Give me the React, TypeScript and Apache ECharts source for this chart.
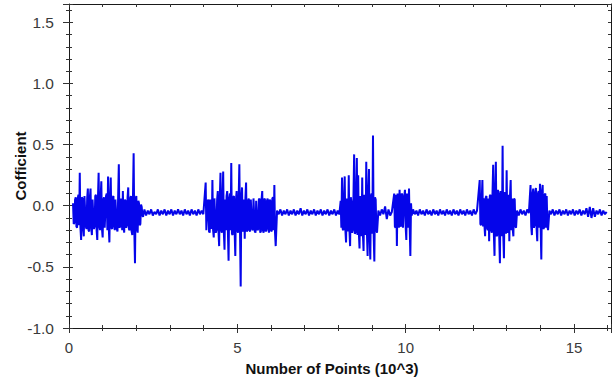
import React, { useEffect, useRef } from "react";
import * as echarts from "echarts";

// x positions are in thousands of points
const burstStep = 0.02;
const quietStep = 0.05;

const burst1Start = 0.12;
const burst1 = [
  0.02, -0.15, -0.14, 0.05, 0.07, -0.17, -0.18, 0.06, 0.09, -0.16, 0.27, -0.18, -0.28, 0.07, 0.06, -0.19, -0.25, 0.08, 0.08, -0.17,
  -0.19, 0.06, 0.14, -0.2, -0.21, 0.07, 0.14, -0.18, -0.24, 0.05, 0.05, -0.19, -0.17, 0.08, 0.09, -0.2, -0.28, 0.06, 0.27, -0.17,
  -0.2, 0.07, 0.2, -0.19, -0.26, 0.05, 0.07, -0.18, -0.18, 0.08, 0.1, -0.2, 0.24, -0.17, -0.3, 0.06, 0.23, -0.18, -0.19, 0.07,
  0.08, -0.17, -0.2, 0.05, 0.05, -0.19, -0.21, 0.08, 0.34, -0.18, -0.17, 0.06, 0.06, -0.2, 0.12, -0.17, -0.22, 0.05, 0.04, -0.18,
  -0.16, 0.07, 0.15, -0.19, -0.2, 0.06, 0.08, -0.21, -0.24, 0.07, 0.43, -0.2, -0.47, 0.06, 0.08, -0.19, -0.22, 0.04, 0.02, -0.16,
  -0.15, 0.01, -0.01, -0.08, -0.09,
];

const quiet1Start = 2.24;
const quiet1 = [
  -0.03, -0.08, -0.04, -0.07, -0.03, -0.08, -0.05, -0.07, -0.03, -0.08,
  -0.04, -0.07, -0.03, -0.08, -0.04, -0.07, -0.03, -0.08, -0.04, -0.07,
  -0.03, -0.07, -0.04, -0.08, -0.03, -0.07, -0.04, -0.08, -0.03, -0.07,
  -0.04, -0.08, -0.03, -0.07, -0.04, -0.07,
];

const burst2Start = 4.06;
const burst2 = [
  0.19, -0.2, -0.2, 0.04, 0.05, -0.21, -0.22, 0.05, 0.04, -0.19, 0.21, -0.2, -0.26, 0.06, 0.06, -0.22, -0.2, 0.05, 0.12, -0.21,
  -0.33, 0.07, 0.27, -0.2, -0.22, 0.06, 0.28, -0.22, -0.36, 0.05, -0.2, 0.08, 0.12, -0.21, -0.45, 0.06, 0.1, -0.2, 0.35, -0.23,
  -0.24, 0.07, 0.08, -0.21, -0.41, 0.05, 0.12, -0.2, -0.22, 0.06, 0.34, -0.21, -0.66, 0.07, 0.15, -0.2, -0.21, 0.05, -0.27, 0.06,
  0.19, -0.21, -0.2, 0.04, 0.06, -0.2, -0.21, 0.05, 0.05, -0.19, -0.2, 0.06, 0.06, -0.21, -0.22, 0.04, 0.04, -0.2, -0.19, 0.05,
  0.06, -0.22, -0.21, 0.05, 0.12, -0.2, -0.22, 0.06, 0.05, -0.21, -0.2, 0.04, 0.06, -0.19, -0.22, 0.05, 0.04, -0.2, -0.21, 0.06,
  0.07, -0.2, 0.17, -0.22, -0.33,
];

const quiet2Start = 6.18;
const quiet2 = [
  -0.04, -0.07, -0.03, -0.08, -0.04, -0.07, -0.03, -0.08, -0.04, -0.07,
  -0.03, -0.08, -0.04, -0.07, -0.02, -0.08, -0.04, -0.07, -0.03, -0.08,
  -0.04, -0.07, -0.03, -0.08, -0.04, -0.07, -0.03, -0.08, -0.04, -0.07,
  -0.03, -0.08, -0.04, -0.07, -0.03, -0.08, -0.04, -0.07,
];

const burst3Start = 8.07;
const burst3 = [
  0.04, -0.18, 0.23, -0.19, -0.2, 0.05, 0.24, -0.2, -0.3, 0.06, 0.06, -0.21, 0.25, -0.2, -0.33, 0.07, 0.03, -0.22, -0.2, 0.08,
  0.42, -0.23, -0.22, 0.09, 0.39, -0.24, 0.25, -0.22, -0.35, 0.08, 0.06, -0.25, 0.23, -0.23, -0.37, 0.09, 0.05, -0.24, 0.36, -0.22,
  -0.41, 0.1, 0.3, -0.25, -0.44, 0.08, 0.1, -0.23, 0.575, -0.24, -0.455, 0.07, 0.05, -0.2, -0.22,
];

const quiet3Start = 9.19;
const quiet3 = [-0.04, -0.08, -0.03, -0.07, -0.005, -0.11, -0.03, -0.08, -0.05];

const burst4Start = 9.66;
const burst4 = [
  0.1, -0.17, -0.18, 0.09, -0.33, 0.1, 0.08, -0.18, 0.13, -0.16, -0.17, 0.1, 0.09, -0.18,
  -0.18, 0.08, 0.13, -0.17, -0.28, 0.1, 0.1, -0.18, 0.14, -0.17, -0.41, 0.02, -0.08,
];

const quiet4Start = 10.22;
const quiet4 = [
  -0.03, -0.07, -0.04, -0.08, -0.03, -0.07, -0.04, -0.08, -0.03, -0.07,
  -0.04, -0.08, -0.03, -0.07, -0.04, -0.08, -0.03, -0.07, -0.04, -0.08,
  -0.03, -0.07, -0.04, -0.08, -0.03, -0.07, -0.04, -0.08, -0.03, -0.07,
  -0.04, -0.08, -0.03, -0.07, -0.04, -0.08, -0.03, -0.07, -0.04,
];

const burst5Start = 12.2;
const burst5 = [
  0.21, -0.15, -0.16, 0.05, 0.21, -0.17, 0.06, -0.16, -0.25, 0.07, 0.08, -0.18, -0.2, 0.06, -0.29, 0.08, 0.09, -0.2, -0.22, 0.1,
  0.335, -0.23, -0.41, 0.12, 0.36, -0.25, -0.24, 0.13, 0.1, -0.26, -0.47, 0.12, 0.12, -0.25, 0.49, -0.24, -0.43, 0.11, 0.1, -0.23,
  0.29, -0.21, -0.22, 0.09, -0.29, 0.08, 0.21, -0.2, 0.06, -0.19, -0.25, 0.06, 0.05, -0.17, -0.18,
];

const quiet5Start = 13.31;
const quiet5 = [-0.04, -0.08, -0.03, -0.07, -0.04, -0.08, -0.03, -0.06];

const burst6Start = 13.71;
const burst6 = [
  0.17, -0.17, -0.24, 0.1, 0.14, -0.18, -0.16, 0.11, 0.145, -0.19, -0.29, 0.1, 0.12, -0.18,
  0.18, -0.17, -0.44, 0.12, 0.17, -0.19, -0.18, 0.09, 0.1, -0.18, 0.08, -0.16, -0.2,
];

const quiet6Start = 14.27;
const quiet6 = [
  -0.04, -0.07, -0.03, -0.08, -0.04, -0.07, -0.03, -0.08, -0.04, -0.07,
  -0.03, -0.08, -0.04, -0.07, -0.03, -0.08, -0.04, -0.07, -0.03, -0.08,
  -0.04, -0.07, -0.02, -0.09, -0.01, -0.1, -0.02, -0.09, -0.04, -0.07,
  -0.03, -0.08, -0.04, -0.07, -0.05,
];

const xTickLabels = ["0", "5", "10", "15"];
const yTickLabels = ["-1.0", "-0.5", "0.0", "0.5", "1.0", "1.5"];

const segments: [number, number, number[]][] = [
  [burst1Start, burstStep, burst1],
  [quiet1Start, quietStep, quiet1],
  [burst2Start, burstStep, burst2],
  [quiet2Start, quietStep, quiet2],
  [burst3Start, burstStep, burst3],
  [quiet3Start, quietStep, quiet3],
  [burst4Start, burstStep, burst4],
  [quiet4Start, quietStep, quiet4],
  [burst5Start, burstStep, burst5],
  [quiet5Start, quietStep, quiet5],
  [burst6Start, burstStep, burst6],
  [quiet6Start, quietStep, quiet6],
];

const FONT = "'Liberation Sans', Arial, sans-serif";

export default function App() {
  const ref = useRef<HTMLDivElement>(null);
  useEffect(() => {
    if (!ref.current) return;
    const chart = echarts.init(ref.current, undefined, { renderer: "svg" });
    const data: [number, number][] = [];
    segments.forEach(([start, step, vals]) => {
      vals.forEach((v, i) => data.push([+(start + i * step).toFixed(3), v]));
    });

    const xMin = 0, xMax = 16.1, yMin = -1, yMax = 1.65;
    const lineStyle = { color: "#1a1a1a", width: 1 };
    const tickStyle = { color: "#333", width: 1 };

    const xFmt = (v: number) => {
      const s = String(Math.round(v));
      return Math.abs(v - Math.round(v)) < 1e-6 && xTickLabels.includes(s) ? s : "";
    };
    const yFmt = (v: number) => {
      const s = v.toFixed(1);
      return Math.abs(v * 2 - Math.round(v * 2)) < 1e-6 && yTickLabels.includes(s) ? s : "";
    };

    const baseX = (over: any) => ({
      type: "value",
      min: xMin,
      max: xMax,
      position: "bottom",
      axisLine: { show: false, onZero: false },
      axisLabel: { show: false },
      splitLine: { show: false },
      ...over,
    });
    const baseY = (over: any) => ({
      type: "value",
      min: yMin,
      max: yMax,
      position: "left",
      axisLine: { show: false, onZero: false },
      axisLabel: { show: false },
      splitLine: { show: false },
      ...over,
    });

    chart.setOption({
      animation: false,
      backgroundColor: "#ffffff",
      grid: {
        left: 69,
        right: 5,
        top: 4,
        bottom: 52,
        containLabel: false,
        outerBoundsMode: "none",
      },
      xAxis: [
        baseX({
          interval: 5,
          axisLine: { show: true, onZero: false, lineStyle },
          axisTick: { show: true, inside: false, length: 5, lineStyle: tickStyle },
          axisLabel: {
            show: true,
            formatter: xFmt,
            margin: 12,
            color: "#3a3a3a",
            fontSize: 15,
            fontFamily: FONT,
          },
          name: "Number of Points (10^3)",
          nameLocation: "middle",
          nameGap: 33,
          nameMoveOverlap: false,
          nameTextStyle: {
            fontWeight: "bold",
            fontSize: 15,
            color: "#111",
            fontFamily: FONT,
            padding: [0, 16, 0, 0],
          },
        }),
        baseX({ interval: 5, axisTick: { show: true, inside: true, length: 4, lineStyle: tickStyle } }),
        baseX({ interval: 1, axisTick: { show: true, inside: false, length: 3, lineStyle: tickStyle } }),
        baseX({ interval: 1, axisTick: { show: true, inside: true, length: 3, lineStyle: tickStyle } }),
        baseX({
          interval: 1,
          position: "top",
          axisLine: { show: true, onZero: false, lineStyle },
          axisTick: { show: true, inside: true, length: 3, lineStyle: tickStyle },
        }),
      ],
      yAxis: [
        baseY({
          interval: 0.5,
          axisLine: { show: true, onZero: false, lineStyle },
          axisTick: { show: true, inside: false, length: 6, lineStyle: tickStyle },
          axisLabel: {
            show: true,
            formatter: yFmt,
            margin: 15,
            color: "#3a3a3a",
            fontSize: 15.5,
            fontFamily: FONT,
          },
          name: "Cofficient",
          nameLocation: "middle",
          nameGap: 41,
          nameRotate: 90,
          nameMoveOverlap: false,
          nameTextStyle: {
            fontWeight: "bold",
            fontSize: 15,
            color: "#111",
            fontFamily: FONT,
          },
        }),
        baseY({ interval: 0.5, axisTick: { show: true, inside: true, length: 4, lineStyle: tickStyle } }),
        baseY({ interval: 0.1, axisTick: { show: true, inside: false, length: 3, lineStyle: tickStyle } }),
        baseY({ interval: 0.1, axisTick: { show: true, inside: true, length: 3, lineStyle: tickStyle } }),
        baseY({
          interval: 0.1,
          position: "right",
          axisLine: { show: true, onZero: false, lineStyle },
          axisTick: { show: true, inside: true, length: 3, lineStyle: tickStyle },
        }),
      ],
      series: [
        {
          type: "line",
          xAxisIndex: 0,
          yAxisIndex: 0,
          data,
          showSymbol: false,
          symbol: "none",
          lineStyle: { color: "#0505ea", width: 2, join: "miter", miterLimit: 2 },
          itemStyle: { color: "#0505ea" },
        },
      ],
    });
    return () => chart.dispose();
  }, []);
  return (
    <div
      ref={ref}
      style={{ position: "fixed", left: 0, top: 0, width: 616, height: 380, background: "#fff" }}
    />
  );
}
